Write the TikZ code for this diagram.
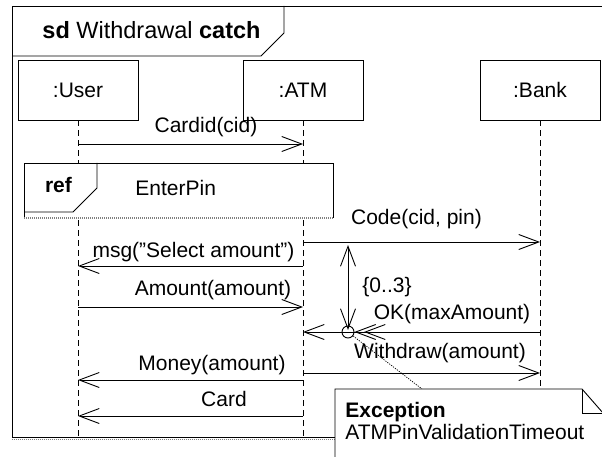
\documentclass[tikz,border=0pt]{standalone}
\usepackage{fontspec}
\setmainfont{Liberation Sans}
\usetikzlibrary{arrows.meta}
\begin{document}
\begin{tikzpicture}[x=1pt,y=-1pt,
  line width=0.9pt,
  every node/.style={font=\fontsize{21}{25}\selectfont, inner sep=0pt},
  headbox/.style={draw, fill=white, minimum width=120pt, minimum height=60pt},
  lifeline/.style={dash pattern=on 6pt off 4pt},
  barb/.tip={Straight Barb[length=20pt,width=15pt]},
  msg/.style={-barb},
  lbl/.style={anchor=base},
  densedot/.style={gray, line width=1.2pt, dash pattern=on 1pt off 1pt},
  link/.style={line width=0.7pt, dash pattern=on 1.2pt off 1.2pt},
]
\useasboundingbox (0,0) rectangle (602,457);
\clip (0,0) rectangle (602,457);

% interaction frame
\draw (12,438) -- (12,6) -- (620,6);
\draw (12,437.5) -- (620,437.5);
\draw[densedot] (12,439.5) -- (620,439.5);
\draw (12,56) -- (261,56) -- (284,33) -- (284,6);
\node[anchor=base west] (title) at (42,38.5)
  {\fontsize{23.5}{28}\selectfont\textbf{sd} Withdrawal \textbf{catch}};

% lifeline heads
\node[headbox] (user) at (78,90) {:User};
\node[headbox] (atm) at (303,90) {:ATM};
\node[headbox] (bank) at (540,90) {:Bank};

\coordinate (userEnd) at (78,438);
\coordinate (atmEnd) at (303,438);
\coordinate (bankEnd) at (540,389);
\draw[lifeline] (user.south) -- (userEnd);
\draw[lifeline] (atm.south) -- (atmEnd);
\draw[lifeline] (bank.south) -- (bankEnd);

% Cardid
\coordinate (u1) at (78,144);
\coordinate (a1) at (303,144);
\draw[msg] (u1) -- (a1);
\node[lbl] (l1) at (206,133) {Cardid(cid)};

% interaction use
\node[fill=white, minimum width=309pt, minimum height=54pt, anchor=north west] (ref) at (24,163) {};
\draw (ref.south west) -- (ref.north west) -- (ref.north east) -- (ref.south east);
\draw[densedot] (ref.south west) -- (ref.south east);
\draw (24,212) -- (73,212) -- (97,188) -- (97,163);
\node[lbl] (reflbl) at (58.5,193) {\textbf{ref}};
\node[anchor=base west] (refname) at (135,196) {EnterPin};

% Code
\coordinate (a2) at (303,242);
\coordinate (b2) at (540,242);
\draw[msg] (a2) -- (b2);
\node[lbl] (l2) at (416.5,225) {Code(cid, pin)};

% msg
\coordinate (a3) at (303,266);
\coordinate (u3) at (78,266);
\draw[msg] (a3) -- (u3);
\node[lbl] (l3) at (193.5,257) {msg(”Select amount”)};

% Amount
\coordinate (u4) at (78,307);
\coordinate (a4) at (303,307);
\draw[msg] (u4) -- (a4);
\node[lbl] (l4) at (213,295) {Amount(amount)};

% OK and the exception gate
\coordinate (b5) at (540,332);
\coordinate (a5) at (303,332);
\node[draw, circle, minimum size=12pt] (gate) at (348,332) {};
\coordinate (exc2) at (364,332);
\draw[msg] (b5) -- (a5);
\draw[msg] (b5) -- (gate.east);
\draw[msg] (b5) -- (exc2);
\node[lbl] (l5) at (452,319) {OK(maxAmount)};

% loop bound
\coordinate (vtop) at (348,245);
\coordinate (vbot) at (348,330);
\draw[barb-barb] (vtop) -- (vbot);
\node[lbl] (bound) at (387,292) {\{0..3\}};

% Withdraw
\coordinate (a6) at (303,373);
\coordinate (b6) at (540,373);
\draw[msg] (a6) -- (b6);
\node[lbl] (l6) at (440,358) {Withdraw(amount)};

% Money
\coordinate (a7) at (303,380);
\coordinate (u7) at (78,380);
\draw[msg] (a7) -- (u7);
\node[lbl] (l7) at (212,370) {Money(amount)};

% Card
\coordinate (a8) at (303,416);
\coordinate (u8) at (78,416);
\draw[msg] (a8) -- (u8);
\node[lbl] (l8) at (224,406.5) {Card};

% note
\coordinate (noteAnchor) at (422,389);
\draw[link] (gate) -- (noteAnchor);
\fill[white] (335,389) -- (582,389) -- (603,413) -- (603,470) -- (335,470) -- cycle;
\draw (335,470) -- (335,389) -- (582,389) -- (603,413) -- (603,470);
\draw (582,389) -- (582,413) -- (603,413);
\node[anchor=base west] (exc) at (345,417.5) {\textbf{Exception}};
\node[anchor=base west] (excname) at (345,439) {ATMPinValidationTimeout};
\end{tikzpicture}
\end{document}
